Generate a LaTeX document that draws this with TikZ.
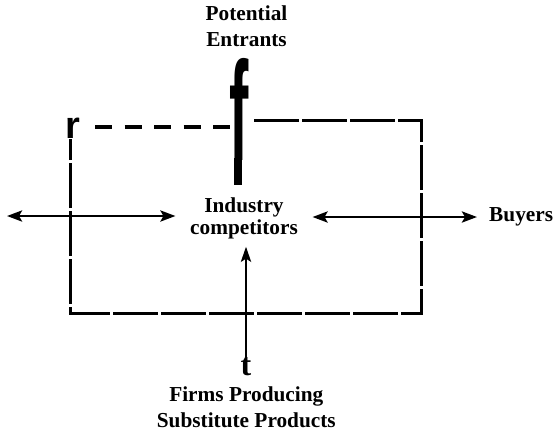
\documentclass[tikz,border=0pt]{standalone}
\usepackage{fontspec}
\setmainfont{Liberation Serif}
\newfontfamily\glyphsans{Liberation Sans}
\usetikzlibrary{arrows.meta}
\begin{document}
\begin{tikzpicture}[x=1pt,y=1pt,
  lbl/.style={font=\fontsize{21.3}{26}\selectfont\bfseries, align=center, inner sep=0pt},
  boxline/.style={line width=3pt, dash pattern=on 45pt off 3pt},
  thickdash/.style={line width=4.5pt, dash pattern=on 17pt off 12.5pt},
  tipst/.style={arrows={Stealth[length=15pt,width=11pt,inset=3pt]-Stealth[length=15pt,width=11pt,inset=3pt]}},
  arr/.style={line width=2.8pt, tipst},
  uparr/.style={line width=2.8pt, -{Stealth[length=15pt,width=10pt,inset=3pt]}},
  stemline/.style={line width=8.5pt}
 ]
\useasboundingbox (0,0) rectangle (553,-432);

% labels
\node[lbl] (pe) at (246.5,-26.5) {Potential\\Entrants};
\node[lbl, font=\fontsize{21.3}{22.8}\selectfont\bfseries, inner xsep=14.5pt, inner ysep=1pt] (ic) at (244,-218.4) {Industry\\competitors};
\node[lbl, anchor=west, inner xsep=12pt] (by) at (477,-217) {Buyers};
\node[lbl] (fp) at (246.3,-407.5) {Firms Producing\\Substitute Products};

% printed glyphs
\node[font=\glyphsans\bfseries\fontsize{38}{38}\selectfont, inner sep=0pt, anchor=base west] (rr) at (65.5,-138) {r};
\node[font=\bfseries\fontsize{32}{32}\selectfont, inner sep=0pt, anchor=base] (tt) at (246,-375) {t};
\node[inner sep=0pt, anchor=base west] (ff) at (229.5,-160) {\scalebox{1}[2.43]{\glyphsans\bfseries\fontsize{58}{58}\selectfont f}};

% box
\draw[thickdash] (95,-127) -- (230,-127);
\draw[boxline] (254,-120.5) -- (421.5,-120.5) -- (421.5,-313) -- (70.5,-313) -- (70.5,-139);

% connectors
\draw[stemline, shorten >=11.6pt] ([xshift=8.5pt,yshift=2pt]ff.base west) -- ([xshift=8.5pt]ff.base west |- ic.north);
\coordinate (lfree) at (7,-216);
\draw[arr] (lfree) -- (lfree -| ic.west);
\draw[arr] (ic.east |- by.west) -- (by.west);
\draw[uparr, shorten >=6pt] (tt.north) -- (tt.north |- ic.south);
\end{tikzpicture}
\end{document}
